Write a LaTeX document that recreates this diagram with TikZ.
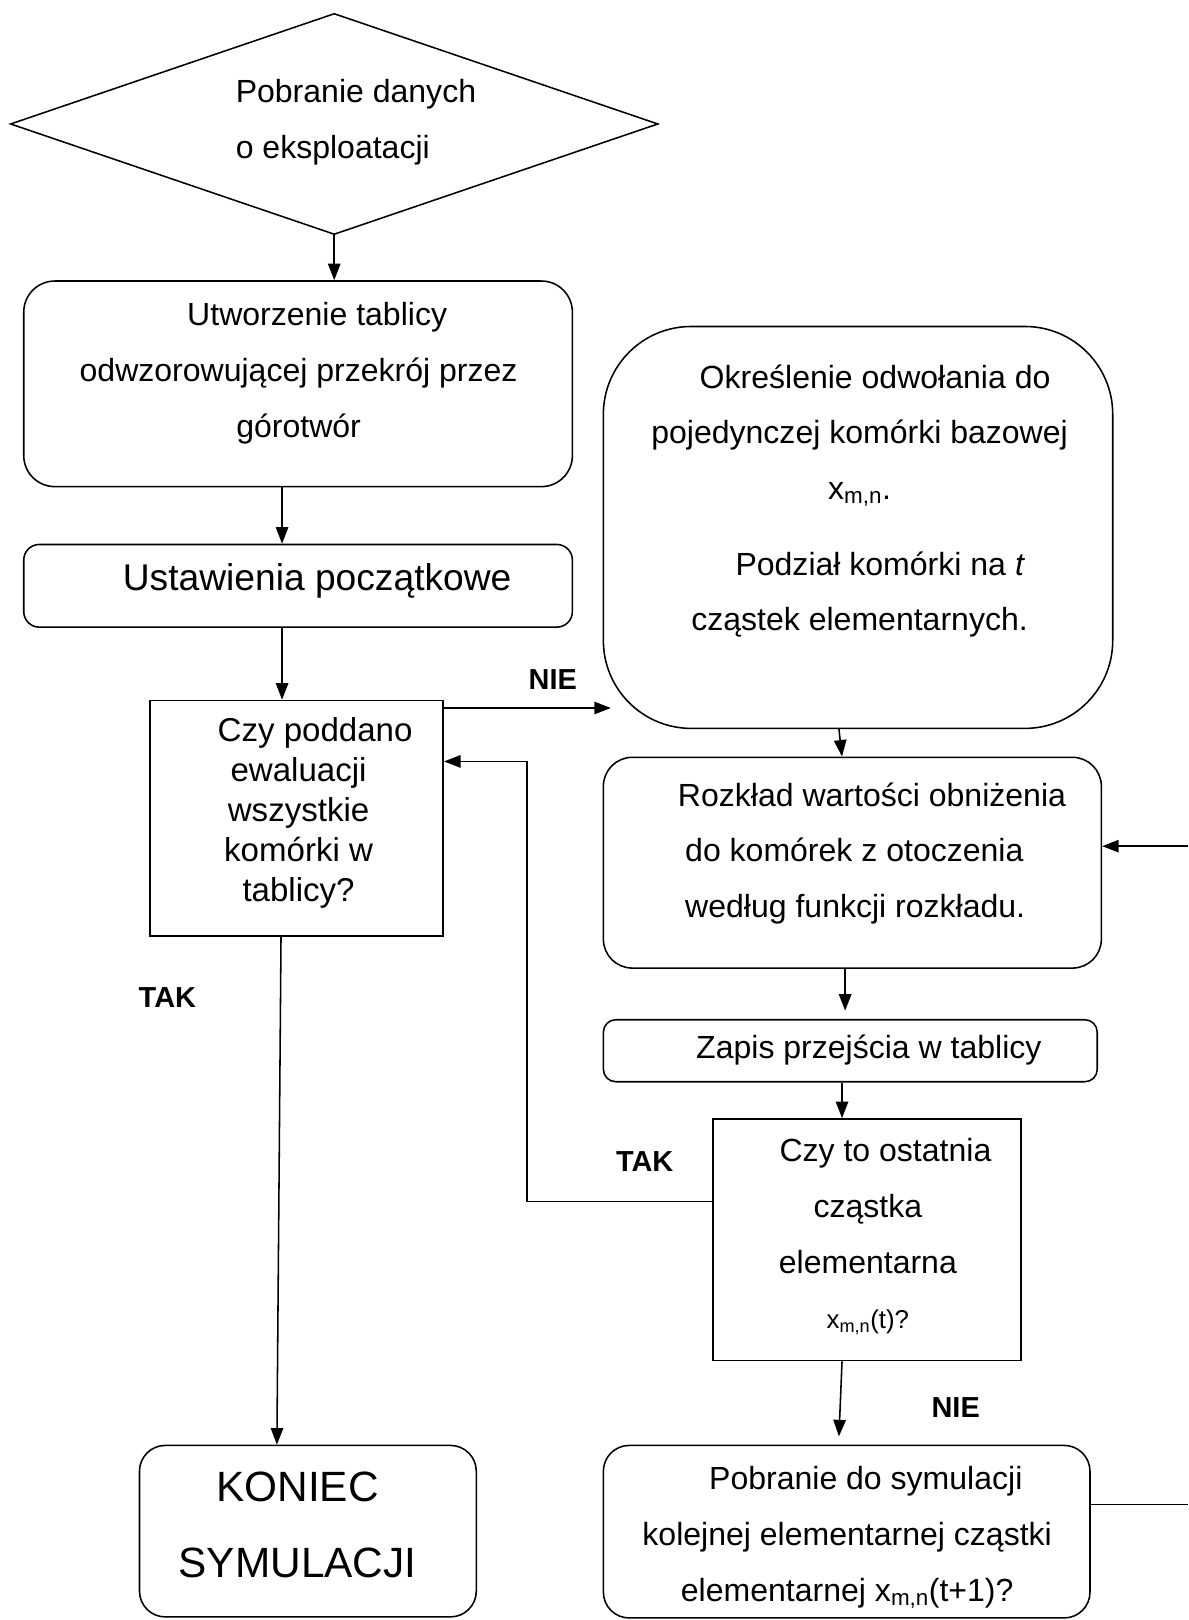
\documentclass[tikz,border=0pt]{standalone}
\usepackage{fontspec}
\setmainfont{Liberation Sans}
\usetikzlibrary{shapes.geometric,arrows.meta,calc}
\begin{document}
\begin{tikzpicture}[x=1pt,y=-1pt,
  box/.style={draw, line width=1.5pt, inner sep=0pt},
  arr/.style={line width=1.5pt, -{Triangle[length=16pt,width=12pt]}},
  ln/.style={line width=1.5pt},
  txt/.style={font=\fontsize{31}{54}\selectfont, align=center, inner sep=0pt},
  lab/.style={font=\fontsize{28}{30}\selectfont\bfseries, inner sep=0pt}]
\useasboundingbox (0,0) rectangle (1150,1568);

% shapes
\node[box, diamond, minimum width=627pt, minimum height=214pt, aspect=2.93] (dia) at (323.5,120) {};
\node[box, rounded corners=30pt, minimum width=531pt, minimum height=199pt] (b1) at (288.5,371.5) {};
\node[box, rounded corners=15pt, minimum width=531pt, minimum height=80pt] (b2) at (288.5,567) {};
\node[box, minimum width=284pt, minimum height=228pt] (d1) at (287,792) {};
\node[box, rounded corners=25pt, minimum width=326pt, minimum height=166pt] (kon) at (298,1482) {};
\node[box, rounded corners=85pt, minimum width=493pt, minimum height=389pt] (big) at (830.5,510.5) {};
\node[box, rounded corners=28pt, minimum width=482pt, minimum height=204pt] (roz) at (825,835) {};
\node[box, rounded corners=12pt, minimum width=478pt, minimum height=60pt] (zap) at (823,1017) {};
\node[box, minimum width=298pt, minimum height=234pt] (d2) at (839,1200) {};
\node[box, rounded corners=25pt, minimum width=471pt, minimum height=167pt] (pob) at (819.5,1482.5) {};

% texts
\node[txt, align=left, anchor=west] (tdia) at (228,118) {Pobranie danych\\o eksploatacji};
\node[txt] (tb1) at (289,361) {\hspace*{36pt}Utworzenie tablicy\\odwzorowującej przekrój przez\\górotwór};
\node[txt, font=\fontsize{36}{40}\selectfont] (tb2) at (307,562) {Ustawienia początkowe};
\node[txt, font=\fontsize{32}{38.7}\selectfont] (td1) at (289,787) {\hspace*{32pt}Czy poddano\\ewaluacji\\wszystkie\\komórki w\\tablicy?};
\node[txt, font=\fontsize{41}{73}\selectfont] (tkon) at (288,1476) {KONIEC\\SYMULACJI};
\node[txt] (tbig) at (832,485) {\hspace*{30pt}Określenie odwołania do\\pojedynczej komórki bazowej\\x\textsubscript{m,n}.\\[19pt]\hspace*{40pt}Podział komórki na \textit{t}\\cząstek elementarnych.};
\node[txt, align=left, anchor=west] (troz) at (656,826) {Rozkład wartości obniżenia\\\hspace*{7pt}do komórek z otoczenia\\\hspace*{7pt}według funkcji rozkładu.};
\node[txt] (tzap) at (841,1016) {Zapis przejścia w tablicy};
\node[txt] (td2) at (840,1197) {\hspace*{34pt}Czy to ostatnia\\cząstka\\elementarna\\{\fontsize{25}{30}\selectfont x\textsubscript{m,n}(t)?}};
\node[txt] (tpob) at (820,1488) {\hspace*{36pt}Pobranie do symulacji\\kolejnej elementarnej cząstki\\elementarnej x\textsubscript{m,n}(t+1)?};

% labels
\node[lab] (nie1) at (535,658) {NIE};
\node[lab] (tak1) at (162,966) {TAK};
\node[lab] (tak2) at (624,1124) {TAK};
\node[lab] (nie2) at (925,1362) {NIE};

% edge coordinates
\coordinate (rin) at (1150,819);
\coordinate (pout) at (1150,1456);
\coordinate (lt) at (510,737);

% connectors
\draw[arr] (dia.south) -- (dia.south |- b1.north);
\draw[arr] ([xshift=-15.5pt]b1.south) -- ([xshift=-15.5pt]b2.north);
\draw[arr] ([xshift=-15.5pt]b2.south) -- ([xshift=-14pt]d1.north);
\draw[arr] ($(d1.north east)+(0,8)$) -- ($(d1.north east -| big.west)+(8,8)$);
\draw[arr] ([xshift=-18.5pt]big.south) -- ([xshift=-10pt]roz.north);
\draw[arr] (rin) -- (rin -| roz.east);
\draw[arr] ([xshift=-7pt]roz.south) -- ([xshift=-5pt,yshift=8pt]zap.north);
\draw[arr] ([xshift=-8pt]zap.south) -- ([xshift=-24pt]d2.north);
\draw[arr] ([xshift=-24pt]d2.south) -- ([xshift=-7.5pt,yshift=8pt]pob.north);
\draw[arr] ([yshift=37pt]d2.west) -| (lt) -- (lt -| d1.east);
\draw[arr] ([xshift=-15pt]d1.south) -- ([xshift=-30pt]kon.north);
\draw[ln] (pout -| pob.east) -- (pout);
\end{tikzpicture}
\end{document}
